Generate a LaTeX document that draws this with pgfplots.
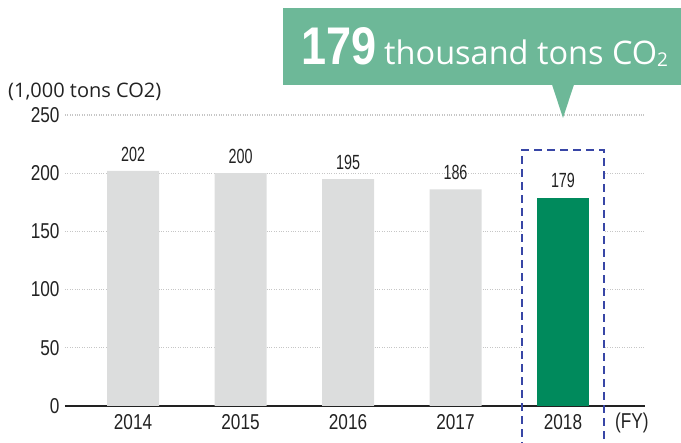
\documentclass[border=0pt]{standalone}
\usepackage{fontspec}
\setmainfont{Liberation Sans}
\newfontfamily\numfont{Liberation Sans}[FakeStretch=0.8]
\newfontfamily\valfont{Liberation Sans}[FakeStretch=0.7]
\newfontfamily\boldnum{Liberation Sans}[FakeStretch=0.85]
\newfontfamily\opensans{Open Sans}
\usepackage{pgfplots}
\pgfplotsset{compat=1.18}
\definecolor{barGray}{HTML}{DCDDDD}
\definecolor{barGreen}{HTML}{008A5C}
\definecolor{callGreen}{HTML}{6DB898}
\definecolor{boxBlue}{HTML}{3846A6}
\definecolor{txt}{HTML}{222222}
\begin{document}
\begin{tikzpicture}[x=1pt,y=1pt]
\useasboundingbox (0,0) rectangle (681,443);
\clip (0,0) rectangle (681,443);
\begin{axis}[
  at={(65pt,37pt)}, anchor=south west,
  scale only axis, width=580pt, height=291pt,
  xmin=-0.633, xmax=4.763, ymin=0, ymax=250,
  clip=false,
  axis x line*=bottom, axis y line*=left,
  y axis line style={draw=none},
  x axis line style={line width=1.6pt, color=txt},
  xtick={0,1,2,3,4},
  xticklabels={2014,2015,2016,2017,2018},
  ytick={0,50,100,150,200,250},
  major tick style={draw=none},
  ymajorgrids,
  grid style={dotted, line width=1.1pt, color=gray!45},
  /pgf/number format/assume math mode=true,
  tick label style={font=\numfont\fontsize{21.5}{21.5}\selectfont, color=txt},
  xticklabel style={yshift=-1pt},
  yticklabel style={xshift=-2pt},
  ybar, bar width=52pt,
  nodes near coords,
  nodes near coords style={font=\valfont\fontsize{20.5}{20.5}\selectfont, color=txt, anchor=south, yshift=6pt},
]
\fill[white] (axis cs:3.619,1.5) rectangle (axis cs:4.381,220);
\addplot[fill=barGray, draw=none, bar shift=0pt] coordinates {(0,202) (1,200) (2,195) (3,186)};
\addplot[fill=barGreen, draw=none, bar shift=0pt] coordinates {(4,179)};
\draw[boxBlue, line width=2.2pt, dash pattern=on 8pt off 5pt] (axis cs:3.619,-60) -- (axis cs:3.619,220) -- (axis cs:4.381,220) -- (axis cs:4.381,-60);
\end{axis}
\node[anchor=base west, font=\numfont\fontsize{21.5}{21.5}\selectfont, color=txt, inner sep=0pt] at (615,14) {(FY)};
\node[anchor=base west, font=\opensans\fontsize{20}{20}\selectfont, color=txt, inner sep=0pt] at (8,345) {(1,000 tons CO2)};
% callout
\fill[callGreen] (283,358) rectangle (690,435);
\fill[callGreen] (552,358.5) -- (574,358.5) -- (563,325) -- cycle;
\node[anchor=base west, inner sep=0pt, text=white, font=\boldnum\bfseries\fontsize{53}{53}\selectfont] at (301,378) {179};
\node[anchor=base west, inner sep=0pt, text=white, font=\opensans\fontsize{32.5}{32.5}\selectfont] at (384,378) {thousand tons CO\raisebox{-0.05em}{\fontsize{19}{19}\selectfont 2}};
\end{tikzpicture}
\end{document}
